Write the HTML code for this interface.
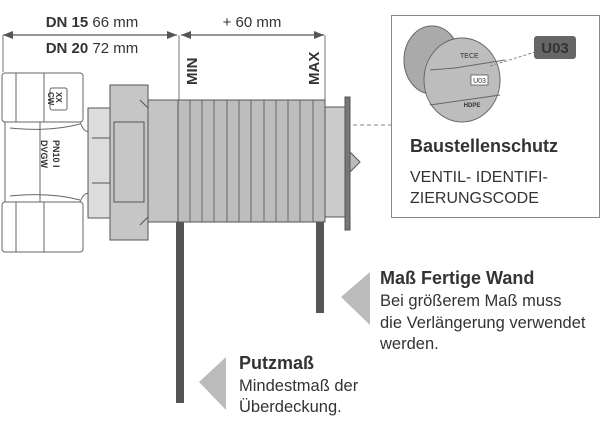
<!DOCTYPE html>
<html><head><meta charset="utf-8"><style>
body{margin:0;background:#fff}
svg{display:block}
text{font-family:"Liberation Sans",sans-serif;fill:#333}
</style></head><body>
<svg width="600" height="425" viewBox="0 0 600 425" xmlns="http://www.w3.org/2000/svg">
<defs>
<marker id="ar" markerWidth="10" markerHeight="8" refX="10" refY="4" orient="auto-start-reverse" markerUnits="userSpaceOnUse"><path d="M0,0 L10,4 L0,8 z" fill="#555"/></marker>
</defs>
<line x1="3" y1="35" x2="177" y2="35" stroke="#555" stroke-width="1.3" marker-start="url(#ar)" marker-end="url(#ar)"/>
<line x1="181" y1="35" x2="324" y2="35" stroke="#555" stroke-width="1.3" marker-start="url(#ar)" marker-end="url(#ar)"/>
<line x1="3" y1="35" x2="3" y2="72" stroke="#777" stroke-width="1"/>
<line x1="179" y1="35" x2="179" y2="100" stroke="#777" stroke-width="1"/>
<line x1="325" y1="35" x2="325" y2="100" stroke="#777" stroke-width="1"/>
<text x="92" y="27" font-size="15" text-anchor="middle"><tspan font-weight="bold">DN 15</tspan> 66 mm</text>
<text x="92" y="53" font-size="15" text-anchor="middle"><tspan font-weight="bold">DN 20</tspan> 72 mm</text>
<text x="252" y="27" font-size="15" text-anchor="middle">+ 60 mm</text>
<text transform="translate(197,85) rotate(-90)" font-size="15" font-weight="bold">MIN</text>
<text transform="translate(319,85) rotate(-90)" font-size="15" font-weight="bold">MAX</text>
<g stroke="#666" stroke-width="1" fill="#fff">
<path d="M5,122 L80,122 Q85,135 90,130 L90,195 Q85,190 80,202 L5,202 z"/>
<rect x="2" y="73" width="81" height="49" rx="3"/>
<rect x="2" y="202" width="81" height="50" rx="3"/>
<line x1="16" y1="73" x2="16" y2="122"/><line x1="44" y1="73" x2="44" y2="122"/>
<line x1="16" y1="202" x2="16" y2="252"/><line x1="44" y1="202" x2="44" y2="252"/>
<rect x="50" y="88" width="17" height="22" rx="2"/>
<path d="M40,122 L40,202 M10,128 Q50,132 80,124 M10,196 Q50,192 80,200" fill="none"/>
</g>
<text transform="translate(56,92) rotate(90)" font-size="8" font-weight="bold" fill="#333">XX</text>
<text transform="translate(48,92) rotate(90)" font-size="8" font-weight="bold" fill="#333">CW</text>
<text transform="translate(53,140) rotate(90)" font-size="9" font-weight="bold">PN10  I</text>
<text transform="translate(41,140) rotate(90)" font-size="9" font-weight="bold">DVGW</text>
<g stroke="#555" stroke-width="1">
<rect x="88" y="108" width="22" height="110" fill="#ddd"/>
<line x1="92" y1="138" x2="110" y2="138"/><line x1="92" y1="183" x2="110" y2="183"/>
<rect x="110" y="85" width="38" height="155" fill="#c6c6c6"/>
<rect x="114" y="122" width="30" height="80" fill="#c6c6c6"/>
<path d="M140,100 L148,108 M140,225 L148,217" fill="none"/>
<rect x="148" y="100" width="30" height="122" fill="#c4c4c4"/>
<rect x="178" y="100" width="147" height="122" fill="#bdbdbd"/>
</g>
<g stroke="#666" stroke-width="1">
<line x1="190" y1="100" x2="190" y2="222"/><line x1="202" y1="100" x2="202" y2="222"/>
<line x1="214" y1="100" x2="214" y2="222"/><line x1="227" y1="100" x2="227" y2="222"/>
<line x1="239" y1="100" x2="239" y2="222"/><line x1="251" y1="100" x2="251" y2="222"/>
<line x1="264" y1="100" x2="264" y2="222"/><line x1="276" y1="100" x2="276" y2="222"/>
<line x1="288" y1="100" x2="288" y2="222"/><line x1="300" y1="100" x2="300" y2="222"/>
<line x1="313" y1="100" x2="313" y2="222"/>
</g>
<g stroke="#555" stroke-width="1">
<rect x="325" y="107" width="22" height="110" fill="#ccc"/>
<rect x="345" y="97" width="5" height="133" fill="#777"/>
<path d="M350,152 L360,162 L350,172 z" fill="#bbb"/>
</g>
<line x1="353" y1="125" x2="391" y2="125" stroke="#888" stroke-width="1" stroke-dasharray="4,3"/>
<rect x="176" y="222" width="8" height="181" fill="#555"/>
<rect x="316" y="222" width="8" height="91" fill="#555"/>
<rect x="391.5" y="15.5" width="208" height="202" fill="#fff" stroke="#888" stroke-width="1"/>
<ellipse cx="432" cy="60" rx="28" ry="34" fill="#aaa" stroke="#666"/>
<ellipse cx="462" cy="80" rx="38" ry="42" fill="#bdbdbd" stroke="#666"/>
<path d="M430,70 L455,68 L505,60 M430,105 L500,95" stroke="#666" fill="none"/>
<rect x="471" y="75" width="17" height="10" fill="#fff" stroke="#555" stroke-width="0.8"/>
<text x="479.5" y="83" font-size="7" text-anchor="middle">U03</text>
<text x="472" y="107" font-size="6" font-weight="bold" text-anchor="middle">HDPE</text>
<text x="460" y="58" font-size="7" fill="#555">TECE</text>
<line x1="490" y1="66" x2="535" y2="52" stroke="#888" stroke-dasharray="3,2"/>
<rect x="534" y="36" width="42" height="23" rx="3" fill="#666"/>
<text x="555" y="53" font-size="15" font-weight="bold" text-anchor="middle" fill="#fff">U03</text>
<text x="410" y="152" font-size="18" font-weight="bold">Baustellenschutz</text>
<text x="410" y="182" font-size="16">VENTIL- IDENTIFI-</text>
<text x="410" y="203" font-size="16">ZIERUNGSCODE</text>
<path d="M341,297 L370,272 L370,325 z" fill="#bbb"/>
<text x="380" y="284" font-size="18" font-weight="bold">Maß Fertige Wand</text>
<text x="380" y="306" font-size="16.5">Bei größerem Maß muss</text>
<text x="380" y="328" font-size="16.5">die Verlängerung verwendet</text>
<text x="380" y="349" font-size="16.5">werden.</text>
<path d="M199,382 L226,357 L226,410 z" fill="#bbb"/>
<text x="239" y="369" font-size="18" font-weight="bold">Putzmaß</text>
<text x="239" y="391" font-size="16.5">Mindestmaß der</text>
<text x="239" y="412" font-size="16.5">Überdeckung.</text>
</svg>
</body></html>
